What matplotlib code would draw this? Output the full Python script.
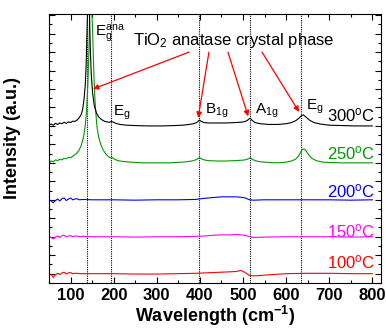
import matplotlib
matplotlib.use('Agg')
import matplotlib.pyplot as plt
from matplotlib.ticker import MultipleLocator

plt.rcParams['font.family'] = ['Liberation Sans', 'DejaVu Sans']
plt.rcParams['mathtext.fontset'] = 'custom'
plt.rcParams['mathtext.rm'] = 'Liberation Sans'
plt.rcParams['mathtext.it'] = 'Liberation Sans:italic'
plt.rcParams['mathtext.bf'] = 'Liberation Sans:bold'

# raman spectra (a.u., relative to each baseline)
wn_300 = [50, 55, 60, 65, 70, 75, 80, 85, 90, 95, 100, 105, 110, 115, 120, 125, 128, 131, 134,
          136, 138, 140, 141, 142, 144, 146, 148, 151, 155, 160, 165, 170, 175, 180, 185, 190,
          195, 200, 205, 215, 230, 250, 280, 310, 340, 360, 375, 385, 392, 396, 399, 403, 410,
          420, 440, 460, 480, 495, 505, 510, 514, 517, 521, 528, 540, 560, 580, 600, 612, 622,
          630, 636, 640, 646, 655, 665, 680, 700, 730, 760, 800]
int_300 = [0.03, 0.05, 0.02, 0.07, 0.04, 0.08, 0.06, 0.10, 0.07, 0.11, 0.09, 0.13, 0.12, 0.16,
           0.22, 0.32, 0.45, 0.70, 1.10, 1.60, 2.50, 3.40, 3.60, 3.50, 2.90, 2.00, 1.40, 0.90,
           0.55, 0.35, 0.25, 0.19, 0.15, 0.12, 0.11, 0.10, 0.12, 0.10, 0.07, 0.04, 0.02, 0.01,
           0.00, 0.00, 0.01, 0.02, 0.04, 0.06, 0.09, 0.13, 0.16, 0.12, 0.09, 0.08, 0.08, 0.08,
           0.09, 0.10, 0.12, 0.15, 0.19, 0.21, 0.15, 0.09, 0.06, 0.04, 0.04, 0.06, 0.09, 0.14,
           0.21, 0.28, 0.30, 0.24, 0.15, 0.09, 0.05, 0.02, 0.01, 0.00, 0.00]

wn_250 = [50, 55, 60, 65, 70, 75, 80, 85, 90, 95, 100, 105, 110, 115, 120, 125, 130, 134, 137,
          140, 143, 145, 148, 151, 154, 157, 161, 165, 170, 175, 180, 185, 190, 195, 198, 202,
          210, 220, 240, 270, 300, 330, 360, 375, 385, 392, 396, 399, 403, 410, 420, 440, 460,
          480, 495, 505, 510, 514, 517, 521, 528, 540, 560, 580, 600, 612, 622, 628, 633, 637,
          641, 646, 652, 660, 670, 685, 700, 730, 760, 800]
int_250 = [0.00, 0.05, 0.03, 0.08, 0.06, 0.10, 0.08, 0.12, 0.11, 0.15, 0.14, 0.18, 0.22, 0.27,
           0.35, 0.48, 0.70, 1.00, 1.40, 2.10, 3.20, 4.40, 4.50, 3.60, 2.40, 1.60, 1.00, 0.70,
           0.50, 0.36, 0.27, 0.20, 0.15, 0.13, 0.14, 0.10, 0.06, 0.04, 0.02, 0.00, 0.00, 0.00,
           0.02, 0.04, 0.06, 0.09, 0.12, 0.14, 0.11, 0.08, 0.06, 0.05, 0.05, 0.06, 0.07, 0.08,
           0.10, 0.12, 0.14, 0.10, 0.06, 0.03, 0.01, 0.00, 0.02, 0.05, 0.10, 0.17, 0.27, 0.36,
           0.38, 0.33, 0.22, 0.12, 0.06, 0.02, 0.01, 0.00, 0.00, 0.00]

wn_low = [50, 55, 60, 65, 70, 75, 80, 85, 90, 95, 100, 105, 110, 115, 120, 130, 150, 200, 250,
          300, 350, 390, 410, 430, 450, 470, 485, 495, 505, 515, 525, 550, 600, 650, 700, 750, 800]
int_200 = [0.00, -0.03, -0.08, -0.02, 0.02, -0.03, 0.03, 0.05, -0.02, 0.02, 0.05, 0.00, 0.02,
           0.03, 0.00, 0.01, 0.00, 0.00, -0.01, 0.00, 0.00, 0.01, 0.04, 0.06, 0.08, 0.08, 0.08,
           0.07, 0.05, 0.00, -0.01, 0.00, 0.00, 0.00, 0.00, -0.01, 0.00]
int_150 = [0.00, -0.02, -0.06, -0.01, 0.02, -0.02, 0.03, 0.04, -0.01, 0.02, 0.03, 0.00, 0.02,
           0.02, 0.00, 0.01, 0.00, 0.00, -0.01, 0.00, 0.00, 0.01, 0.02, 0.04, 0.05, 0.05, 0.06,
           0.05, 0.04, 0.00, -0.02, -0.01, 0.00, 0.00, 0.00, -0.01, 0.00]
int_100 = [0.00, -0.03, -0.10, -0.03, 0.01, -0.02, 0.02, 0.04, -0.01, 0.02, 0.03, 0.00, 0.01,
           0.01, 0.00, 0.00, 0.00, 0.00, -0.01, -0.01, 0.00, 0.01, 0.02, 0.03, 0.04, 0.05, 0.06,
           0.09, 0.03, -0.05, -0.06, -0.04, 0.00, 0.01, 0.01, 0.00, 0.00]

labels = ['100$^{\\rm o}$C', '150$^{\\rm o}$C', '200$^{\\rm o}$C', '250$^{\\rm o}$C', '300$^{\\rm o}$C']
offsets = [0, 1, 2, 3, 4]
colors = ['#ff0000', '#ff00ff', '#0000ff', '#009900', '#000000']

# anatase raman modes
mode_pos = [139, 193, 397, 516, 634]

fig = plt.figure(figsize=(3.86, 3.34), dpi=100)
ax = fig.add_axes([0.127, 0.153, 0.860, 0.805])

series = [(wn_low, int_100), (wn_low, int_150), (wn_low, int_200),
          (wn_250, int_250), (wn_300, int_300)]
for (x, y), off, c in zip(series, offsets, colors):
    ax.plot(x, [v + off for v in y], color=c, lw=0.8)

for p in mode_pos:
    ax.axvline(p, color='k', lw=0.8, ls=(0, (1, 1)), zorder=0)

# temperature labels
lab_dy = [0.31, 0.16, 0.22, 0.27, 0.30]
for lab, off, dy, c in zip(labels, offsets, lab_dy, colors):
    ax.text(806, off + dy, lab, color=c, fontsize=12, ha='right', va='center')

# mode labels
ax.text(157, 6.51, 'E$_{\\rm g}^{\\rm ana}$', fontsize=11, va='center')
ax.text(199, 4.36, 'E$_{\\rm g}$', fontsize=11, va='center')
ax.text(411, 4.42, 'B$_{\\rm 1g}$', fontsize=11, va='center')
ax.text(527, 4.42, 'A$_{\\rm 1g}$', fontsize=11, va='center')
ax.text(646, 4.52, 'E$_{\\rm g}$', fontsize=11, va='center')

ax.text(245, 6.32, 'TiO$_2$ anatase crystal phase', fontsize=12, va='center')
arrows = [((375, 6.0), (152, 5.0)), ((421, 6.0), (396, 4.22)),
          ((465, 6.0), (512, 4.26)), ((544, 6.0), (630, 4.38))]
for tail, head in arrows:
    ax.annotate('', xy=head, xytext=tail,
                arrowprops=dict(arrowstyle='-|>', color='red', lw=0.9,
                                mutation_scale=8, shrinkA=0, shrinkB=0))

ax.set_xlim(50, 820)
ax.set_ylim(-0.25, 7.03)
ax.xaxis.set_major_locator(MultipleLocator(100))
ax.xaxis.set_minor_locator(MultipleLocator(50))
ax.yaxis.set_major_locator(MultipleLocator(0.5))
ax.yaxis.set_minor_locator(MultipleLocator(0.25))
ax.tick_params(which='both', direction='in', top=True, right=True, labelleft=False)
ax.tick_params(which='major', length=4, width=0.8)
ax.tick_params(which='minor', length=2, width=0.8)
for lbl in ax.get_xticklabels():
    lbl.set_fontweight('bold')
    lbl.set_fontsize(12)
for s in ax.spines.values():
    s.set_linewidth(0.8)

ax.set_xlabel('Wavelength (cm$^{\\mathbf{-1}}$)', fontsize=13, fontweight='bold', labelpad=1)
ax.set_ylabel('Intensity (a.u.)', fontsize=13, fontweight='bold')
ax.yaxis.set_label_coords(-0.085, 0.54)

fig.savefig('out.png', dpi=100)
